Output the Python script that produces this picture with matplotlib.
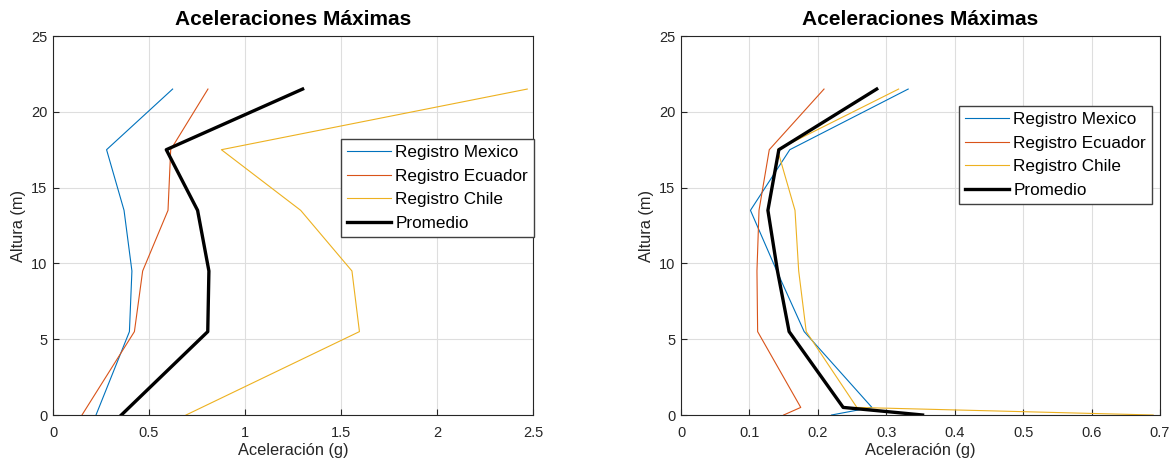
import matplotlib.pyplot as plt
import numpy as np

plt.rcParams['font.family'] = ['Liberation Sans', 'DejaVu Sans']

# Alturas de piso (m)
altura_a = [0, 5.5, 9.5, 13.5, 17.5, 21.5]
altura_b = [0, 0.5, 5.5, 9.5, 13.5, 17.5, 21.5]

# Aceleraciones maximas (g) - primer grafico
mexico_a = [0.224, 0.398, 0.411, 0.370, 0.279, 0.623]
ecuador_a = [0.151, 0.424, 0.467, 0.599, 0.613, 0.807]
chile_a = [0.693, 1.596, 1.557, 1.290, 0.877, 2.470]
promedio_a = [0.356, 0.806, 0.812, 0.753, 0.590, 1.300]

# Aceleraciones maximas (g) - segundo grafico
mexico_b = [0.220, 0.279, 0.180, 0.140, 0.1015, 0.159, 0.332]
ecuador_b = [0.150, 0.175, 0.112, 0.111, 0.114, 0.129, 0.209]
chile_b = [0.690, 0.257, 0.183, 0.172, 0.1666, 0.141, 0.318]
promedio_b = [0.353, 0.237, 0.158, 0.141, 0.127, 0.143, 0.286]

nombres = ['Registro Mexico', 'Registro Ecuador', 'Registro Chile', 'Promedio']
colores = ['#0072BD', '#D95319', '#EDB120', 'black']

W, H = 1175, 461
fig = plt.figure(figsize=(W / 100, H / 100), dpi=100)


def panel(rect, altura, series, xmax, xstep, legend_top):
    ax = fig.add_axes([rect[0] / W, 1 - rect[3] / H,
                       (rect[2] - rect[0]) / W, (rect[3] - rect[1]) / H])
    for vals, nom, col in zip(series, nombres, colores):
        lw = 2.4 if nom == 'Promedio' else 0.8
        ax.plot(vals, altura, color=col, lw=lw, label=nom)
    ax.set_xlim(0, xmax)
    ax.set_ylim(0, 25)
    xt = np.round(np.arange(0, xmax + 1e-9, xstep), 2)
    ax.set_xticks(xt)
    ax.set_xticklabels([f'{v:g}' for v in xt])
    ax.set_yticks(range(0, 26, 5))
    ax.grid(True, color='#dedede', lw=0.8)
    ax.set_axisbelow(True)
    for s in ax.spines.values():
        s.set_color('#262626')
        s.set_linewidth(0.8)
    ax.tick_params(direction='in', length=4, width=0.8, color='#262626',
                   labelsize=10.5, labelcolor='#262626', top=False, right=False)
    ax.tick_params(axis='x', pad=8)
    ax.tick_params(axis='y', pad=4)
    ax.set_title('Aceleraciones Máximas', fontsize=15, fontweight='bold',
                 color='black', pad=8)
    ax.set_xlabel('Aceleración (g)', fontsize=11.75, color='#262626', labelpad=2)
    ax.set_ylabel('Altura (m)', fontsize=11.75, color='#262626', labelpad=4)
    leg = ax.legend(loc='upper right', bbox_to_anchor=legend_top, fontsize=12.3,
                    frameon=True, fancybox=False, framealpha=1,
                    edgecolor='#404040', handlelength=2.55, handletextpad=0.25,
                    borderpad=0.35, labelspacing=0.5, borderaxespad=0)
    leg.get_frame().set_linewidth(1.0)
    return ax


panel((53, 36, 533, 415), altura_a, [mexico_a, ecuador_a, chile_a, promedio_a],
      2.5, 0.5, (1.002, 0.728))
panel((681, 36, 1160, 415), altura_b, [mexico_b, ecuador_b, chile_b, promedio_b],
      0.7, 0.1, (0.983, 0.815))

fig.savefig('out.png', dpi=100)
